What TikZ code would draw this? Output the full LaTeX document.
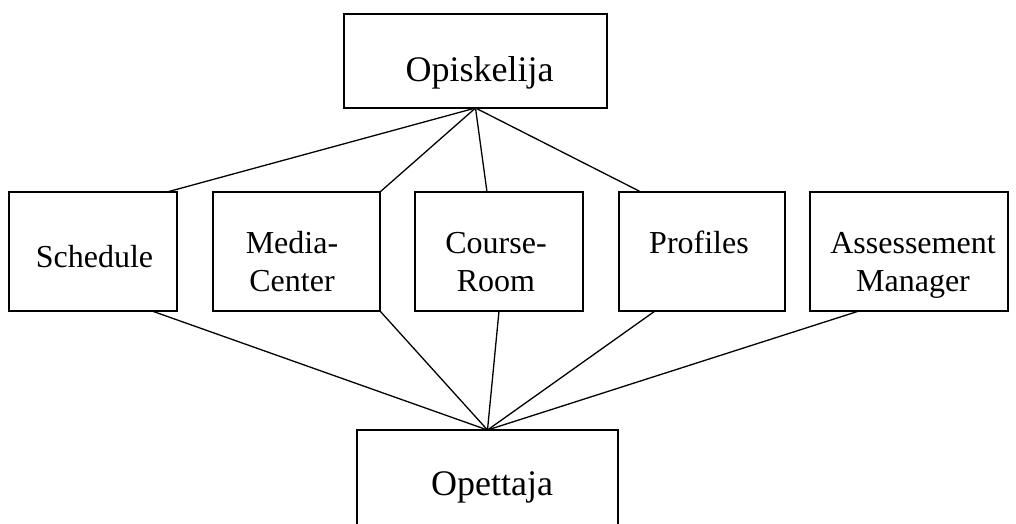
\documentclass[tikz,border=0pt]{standalone}
\usepackage{fontspec}
\setmainfont{Liberation Serif}
\begin{document}
\begin{tikzpicture}[x=1pt,y=-1pt,
  box/.style={draw, line width=1.6pt, inner sep=0pt, outer sep=0pt},
  link/.style={draw, line width=1.3pt},
  bigtext/.style={font=\fontsize{36}{40}\selectfont, inner sep=0pt, anchor=base},
  smalltext/.style={font=\fontsize{32}{38}\selectfont, inner sep=0pt, anchor=base, align=center}]
\useasboundingbox (0,0) rectangle (1016,523);
% boxes
\node[box, minimum width=263pt, minimum height=94pt] (opis) at (475.5,61) {};
\node[box, minimum width=168pt, minimum height=119pt] (sched) at (93,251.5) {};
\node[box, minimum width=167pt, minimum height=119pt] (media) at (296.5,251.5) {};
\node[box, minimum width=168pt, minimum height=119pt] (course) at (499,251.5) {};
\node[box, minimum width=166pt, minimum height=119pt] (prof) at (702,251.5) {};
\node[box, minimum width=198pt, minimum height=119pt] (assess) at (909,251.5) {};
\node[box, minimum width=261pt, minimum height=130pt] (opet) at (487.5,495) {};
% labels (base anchor: baseline of the last line)
\node[bigtext] (opisL) at (479.5,81) {Opiskelija};
\node[bigtext] (opetL) at (492,495) {Opettaja};
\node[smalltext] (schedL) at (94.5,267) {Schedule};
\node[smalltext] (mediaL) at (292,291) {Media-\\Center};
\node[smalltext] (courseL) at (496,291) {Course-\\Room};
\node[smalltext] (profL) at (699,253) {Profiles};
\node[smalltext] (assessL) at (913,291) {Assessement\\Manager};
% upper connections
\draw[link] (opis.south) -- ([xshift=-10pt]sched.north east);
\draw[link] (opis.south) -- (media.north east);
\draw[link] (opis.south) -- ([xshift=-12pt]course.north);
\draw[link] (opis.south) -- ([xshift=22pt]prof.north west);
% lower connections
\draw[link] (opet.north) -- ([xshift=143pt]sched.south west);
\draw[link] (opet.north) -- (media.south east);
\draw[link] (opet.north) -- (course.south);
\draw[link] (opet.north) -- ([xshift=36pt]prof.south west);
\draw[link] (opet.north) -- ([xshift=49pt]assess.south west);
\end{tikzpicture}
\end{document}
